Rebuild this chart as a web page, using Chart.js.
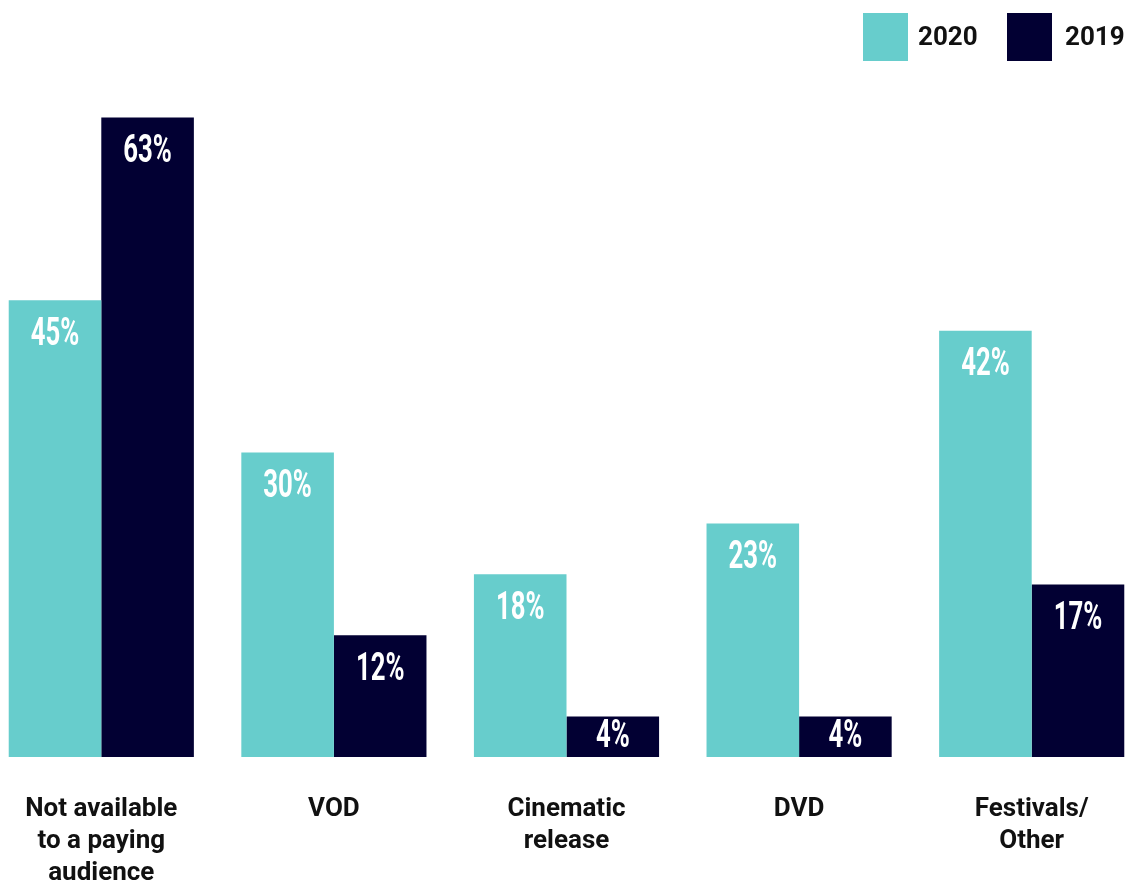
<!DOCTYPE html>
<html>
<head>
<meta charset="utf-8">
<script src="https://cdn.jsdelivr.net/npm/chart.js@4"></script>
<style>
  html, body { margin: 0; padding: 0; background: #ffffff; overflow: hidden; width: 1128px; height: 882px; }
  #wrap { position: absolute; left: -15px; top: 0; width: 1163px; height: 882px; }
</style>
</head>
<body>
<div id="wrap"><canvas id="chart"></canvas></div>
<script>
// Where films ended up, share of respondents (%)
const categories = [
  ['Not available', 'to a paying', 'audience'],
  'VOD',
  ['Cinematic', 'release'],
  'DVD',
  ['Festivals/', 'Other']
];
const years = ['2020', '2019'];
const share2020 = [45, 30, 18, 23, 42];
const share2019 = [63, 12, 4, 4, 17];
const seriesColors = ['#67cdcc', '#020033'];

// White percentage labels inside the top of each bar (condensed look)
const valueLabels = {
  id: 'valueLabels',
  afterDatasetsDraw(chart) {
    const ctx = chart.ctx;
    chart.data.datasets.forEach((ds, i) => {
      chart.getDatasetMeta(i).data.forEach((bar, j) => {
        const top = bar.y, base = bar.base;
        const cy = Math.min(top + 34, (top + base) / 2);
        ctx.save();
        ctx.translate(bar.x, cy);
        ctx.scale(0.66, 1);
        ctx.font = 'bold 39px Roboto';
        ctx.fillStyle = '#ffffff';
        ctx.textAlign = 'center';
        ctx.textBaseline = 'middle';
        ctx.fillText(ds.data[j] + '%', 0, 1);
        ctx.restore();
      });
    });
  }
};

// Legend in the top-right corner, drawn over the plot
const cornerLegend = {
  id: 'cornerLegend',
  afterDraw(chart) {
    const ctx = chart.ctx;
    const slots = [878, 1022];
    const gaps = [55, 58];
    ctx.save();
    ctx.font = 'bold 26px Roboto';
    ctx.textAlign = 'left';
    ctx.textBaseline = 'middle';
    chart.data.datasets.forEach((ds, i) => {
      const x = slots[i];
      ctx.fillStyle = ds.backgroundColor;
      ctx.fillRect(x, 13, 45, 48);
      ctx.fillStyle = '#111111';
      ctx.fillText(ds.label, x + gaps[i], 38);
    });
    ctx.restore();
  }
};

new Chart(document.getElementById('chart'), {
  type: 'bar',
  data: {
    labels: categories,
    datasets: [
      { label: years[0], data: share2020, backgroundColor: seriesColors[0] },
      { label: years[1], data: share2019, backgroundColor: seriesColors[1] }
    ]
  },
  options: {
    responsive: true,
    maintainAspectRatio: false,
    animation: false,
    events: [],
    layout: { padding: { top: 13, left: 0, right: 0, bottom: 0 } },
    datasets: { bar: { categoryPercentage: 0.796, barPercentage: 1.0, borderWidth: 0 } },
    plugins: {
      legend: { display: false },
      tooltip: { enabled: false }
    },
    scales: {
      x: {
        grid: { display: false, drawTicks: false },
        border: { display: false },
        ticks: {
          color: '#111111',
          padding: 37,
          font: { family: 'Roboto', weight: 'bold', size: 26, lineHeight: 1.23 }
        },
        afterFit(scale) { scale.height = 125; }
      },
      y: {
        display: false,
        min: 0,
        max: 73.3,
        grid: { display: false }
      }
    }
  },
  plugins: [valueLabels, cornerLegend]
});
</script>
</body>
</html>
